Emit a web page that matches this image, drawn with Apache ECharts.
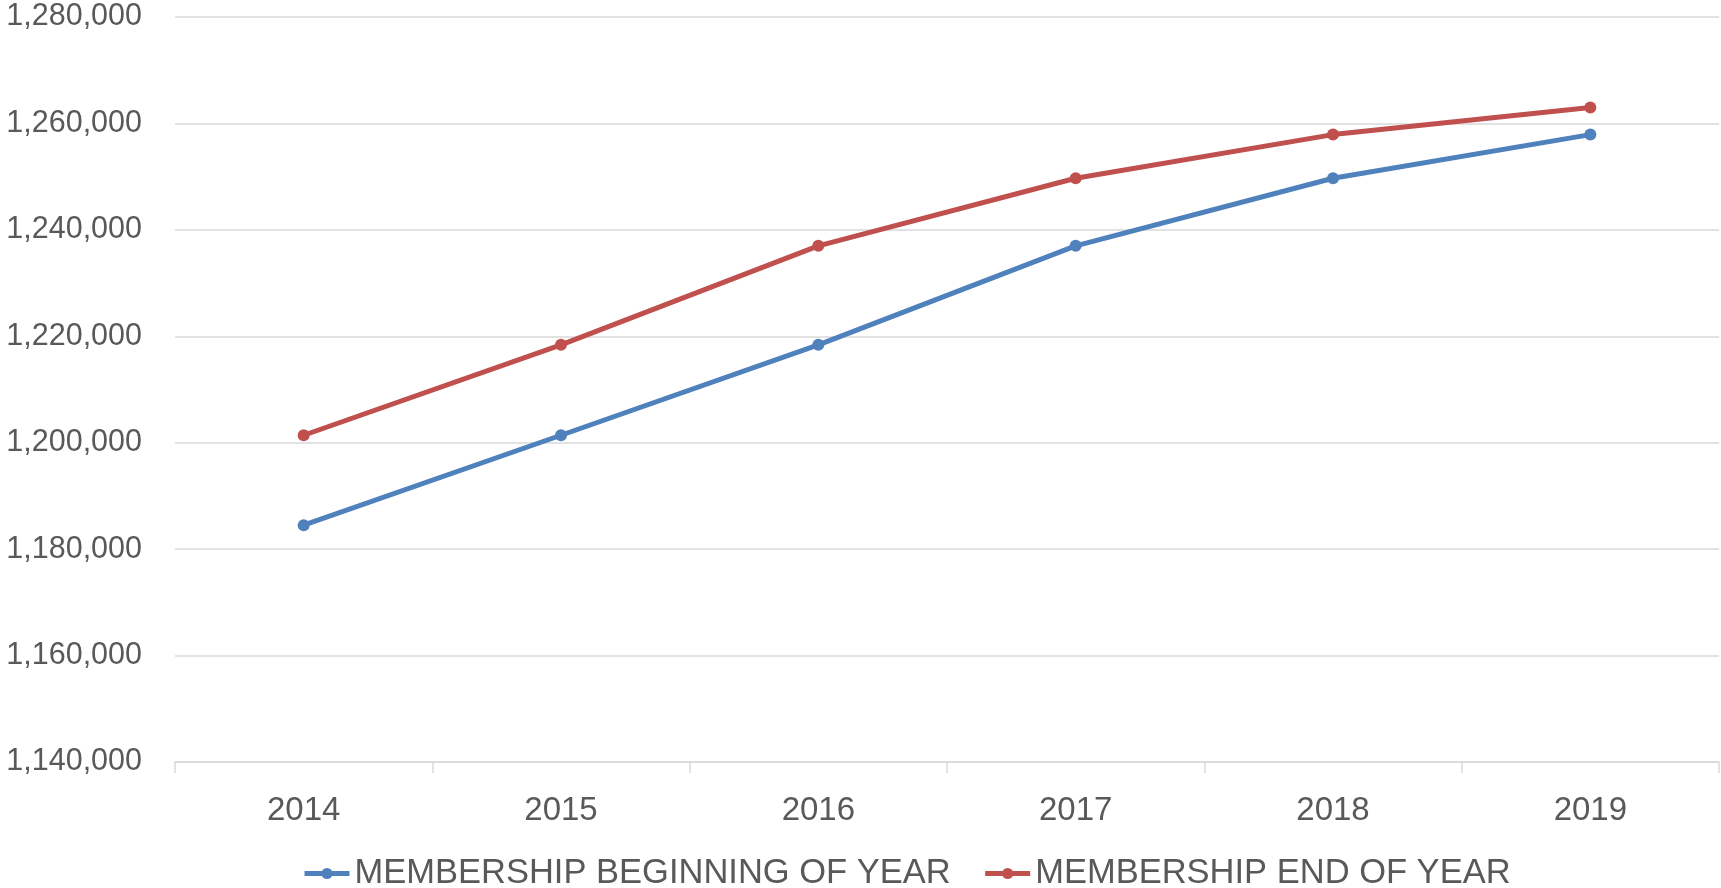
<!DOCTYPE html>
<html>
<head>
<meta charset="utf-8">
<script src="https://cdn.jsdelivr.net/npm/echarts@6/dist/echarts.min.js"></script>
<style>
html,body{margin:0;padding:0;background:#fff;}
#chart{width:1721px;height:888px;}
</style>
</head>
<body>
<div id="chart"></div>
<script>
const categories = ['2014', '2015', '2016', '2017', '2018', '2019'];
const beginningOfYear = [1184500, 1201400, 1218400, 1237000, 1249700, 1257900];
const endOfYear = [1201400, 1218400, 1237000, 1249700, 1257900, 1263000];
const seriesNames = ['MEMBERSHIP BEGINNING OF YEAR', 'MEMBERSHIP END OF YEAR'];
const yMin = 1140000, yMax = 1280000, yStep = 20000;

const chart = echarts.init(document.getElementById('chart'), null, {renderer: 'canvas'});
const font = '"Liberation Sans", Arial, sans-serif';
chart.setOption({
  animation: false,
  backgroundColor: '#ffffff',
  textStyle: {fontFamily: font},
  grid: {left: 175, right: 2, top: 17, bottom: 126, containLabel: false},
  legend: {
    left: 297, top: 851,
    itemWidth: 45, itemHeight: 14, itemGap: 32,
    lineStyle: {width: 5},
    textStyle: {fontSize: 34.5, color: '#595959', fontFamily: font, padding: [0,0,0,0]},
    data: seriesNames
  },
  xAxis: {
    type: 'category',
    data: categories,
    boundaryGap: true,
    axisLine: {show: true, lineStyle: {color: '#D9D9D9', width: 1.5}},
    axisTick: {show: true, alignWithLabel: false, length: 11, lineStyle: {color: '#D9D9D9', width: 1.5}},
    axisLabel: {fontSize: 33, color: '#595959', margin: 32, fontFamily: font},
    splitLine: {show: false}
  },
  yAxis: {
    type: 'value',
    min: yMin, max: yMax, interval: yStep,
    axisLine: {show: false},
    axisTick: {show: false},
    axisLabel: {
      fontSize: 30.5, color: '#595959', margin: 33, fontFamily: font,
      formatter: v => v.toLocaleString('en-US')
    },
    splitLine: {show: true, lineStyle: {color: '#D9D9D9', width: 1.5}}
  },
  series: [
    {
      name: seriesNames[0], type: 'line', data: beginningOfYear,
      symbol: 'circle', symbolSize: 12,
      lineStyle: {color: '#4F81BD', width: 5},
      itemStyle: {color: '#4F81BD'}
    },
    {
      name: seriesNames[1], type: 'line', data: endOfYear,
      symbol: 'circle', symbolSize: 12,
      lineStyle: {color: '#C0504D', width: 5},
      itemStyle: {color: '#C0504D'}
    }
  ]
});
</script>
</body>
</html>
